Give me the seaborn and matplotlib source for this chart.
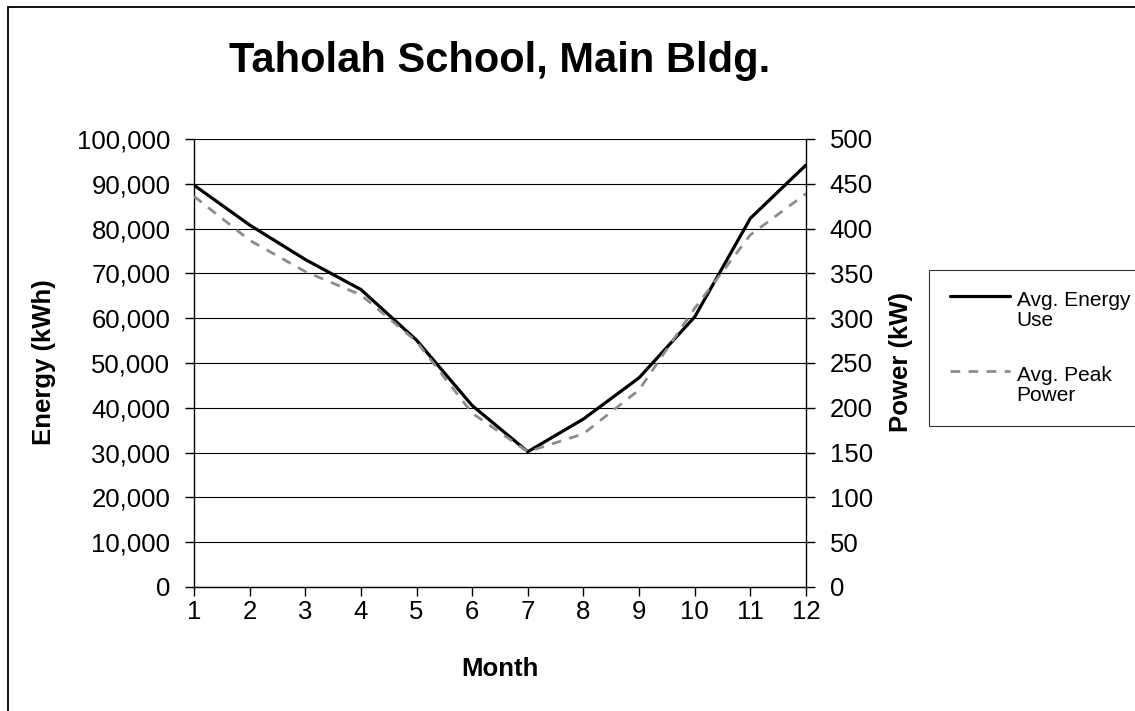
import matplotlib
matplotlib.use("Agg")
import matplotlib.pyplot as plt
import seaborn as sns
import pandas as pd
from matplotlib.patches import Rectangle
from matplotlib.ticker import FuncFormatter, MultipleLocator
from matplotlib.legend_handler import HandlerLine2D

months = [1, 2, 3, 4, 5, 6, 7, 8, 9, 10, 11, 12]
energy_kwh = [89700, 80800, 73100, 66400, 55100, 40500, 30200, 37500, 46700, 60300, 82300, 94200]
peak_kw = [436, 387, 352, 326, 274, 194, 151, 171, 220, 311, 393, 439]
title = "Taholah School, Main Bldg."
series_names = ["Avg. Energy\nUse", "Avg. Peak\nPower"]

sns.set_theme(style="white")
plt.rcParams['font.family'] = ['Liberation Sans', 'DejaVu Sans']
plt.rcParams['text.color'] = 'black'


class FirstLineHandler(HandlerLine2D):
    """Place the legend line level with the first line of a two-line label."""
    def __init__(self, dy=10.0, **kw):
        super().__init__(**kw)
        self.dy = dy

    def create_artists(self, legend, orig_handle, xdescent, ydescent, width, height,
                       fontsize, trans):
        arts = super().create_artists(legend, orig_handle, xdescent, ydescent, width,
                                      height, fontsize, trans)
        for a in arts:
            a.set_ydata([y + self.dy for y in a.get_ydata()])
        return arts


W, H = 1135, 711
fig = plt.figure(figsize=(W / 100, H / 100), dpi=100)
ax = fig.add_axes([194 / W, 1 - 587 / H, 612 / W, 448 / H])
ax2 = ax.twinx()

df = pd.DataFrame({"Month": months, "Energy": energy_kwh, "Power": peak_kw})

sns.lineplot(data=df, x="Month", y="Energy", ax=ax, color="black", linewidth=2.3,
             label=series_names[0], legend=False)
sns.lineplot(data=df, x="Month", y="Power", ax=ax2, color="#8c8c8c", linewidth=2.0,
             label=series_names[1], legend=False)
ax2.lines[0].set_dashes([3.5, 3.0])

ax.set_xlim(1, 12)
ax.set_ylim(0, 100000)
ax2.set_ylim(0, 500)
ax.xaxis.set_major_locator(MultipleLocator(1))
ax.yaxis.set_major_locator(MultipleLocator(10000))
ax2.yaxis.set_major_locator(MultipleLocator(50))
ax.yaxis.set_major_formatter(FuncFormatter(lambda v, p: f"{int(v):,}"))

ax.grid(axis="y", color="black", linewidth=0.8)
ax.grid(axis="x", visible=False)
ax2.grid(False)
ax.set_facecolor("white")
ax2.patch.set_visible(False)

for a in (ax, ax2):
    for s in a.spines.values():
        s.set_visible(False)
ax.spines["left"].set_visible(True)
ax.spines["bottom"].set_visible(True)
ax2.spines["right"].set_visible(True)
for s in (ax.spines["left"], ax.spines["bottom"], ax2.spines["right"]):
    s.set_color("black")
    s.set_linewidth(1.0)

tick_fs = 18.5
ax.tick_params(axis="y", which="major", direction="out", length=6.5, width=1.0, color="black",
               left=True, pad=10.5, labelsize=tick_fs, labelcolor="black")
ax.tick_params(axis="x", which="major", direction="out", length=6.5, width=1.0, color="black",
               bottom=True, pad=3, labelsize=tick_fs, labelcolor="black")
ax2.tick_params(axis="y", which="major", direction="out", length=6.5, width=1.0, color="black",
                right=True, pad=10.5, labelsize=tick_fs, labelcolor="black")

ax.set_xlabel("")
ax.set_ylabel("")
ax2.set_ylabel("")

fig.text(500 / W, 1 - 61 / H, title, ha="center", va="center", fontsize=30,
         fontweight="bold", color="black")
fig.text(500 / W, 1 - 669 / H, "Month", ha="center", va="center", fontsize=18.5,
         fontweight="bold", color="black")
fig.text(44 / W, 1 - 362 / H, "Energy (kWh)", ha="center", va="center", rotation=90,
         fontsize=18.5, fontweight="bold", color="black")
fig.text(901 / W, 1 - 362 / H, "Power (kW)", ha="center", va="center", rotation=90,
         fontsize=18.5, fontweight="bold", color="black")

handles = [ax.lines[0], ax2.lines[0]]
leg = fig.legend(handles, series_names, loc="upper left", bbox_to_anchor=(929 / W, 1 - 270 / H),
                 bbox_transform=fig.transFigure, borderaxespad=0, frameon=True, fancybox=False,
                 shadow=False, fontsize=15, handlelength=2.9, handletextpad=0.3,
                 labelspacing=1.7, borderpad=1.0,
                 handler_map={h: FirstLineHandler(dy=10.5) for h in handles})
leg.get_frame().set_edgecolor("black")
leg.get_frame().set_linewidth(0.8)
for t in leg.get_texts():
    t.set_linespacing(1.1)
    t.set_color("black")

fig.patches.append(Rectangle((8 / W, -0.05), 1.2, 1.05 - 7 / H, transform=fig.transFigure,
                             fill=False, edgecolor="black", linewidth=1.3, figure=fig))

fig.savefig("out.png", dpi=100, facecolor="white")
